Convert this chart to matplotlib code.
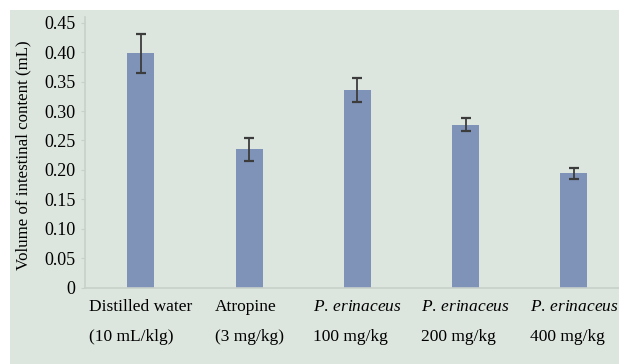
import matplotlib.pyplot as plt
from matplotlib.patches import Rectangle

# ── Data ──────────────────────────────────────────────────────────────
groups = [
    "Distilled water\n(10 mL/klg)",
    "Atropine\n(3 mg/kg)",
    "$\\it{P.\\,erinaceus}$\n100 mg/kg",
    "$\\it{P.\\,erinaceus}$\n200 mg/kg",
    "$\\it{P.\\,erinaceus}$\n400 mg/kg",
]
volume = [0.398, 0.235, 0.336, 0.277, 0.194]
errors = [0.033, 0.020, 0.020, 0.011, 0.010]
yticks = [0, 0.05, 0.10, 0.15, 0.20, 0.25, 0.30, 0.35, 0.40, 0.45]
ytick_labels = ["0", "0.05", "0.10", "0.15", "0.20", "0.25", "0.30", "0.35", "0.40", "0.45"]

BG = "#dce5de"
BAR = "#7f93b9"

plt.rcParams["font.family"] = ["Liberation Serif", "DejaVu Serif"]
plt.rcParams["mathtext.fontset"] = "custom"
plt.rcParams["mathtext.it"] = "Liberation Serif:italic"
plt.rcParams["mathtext.rm"] = "Liberation Serif"

W, H = 619, 364
fig = plt.figure(figsize=(W / 100, H / 100), dpi=100)
fig.patch.set_facecolor("white")
fig.patches.append(Rectangle((10 / W, 0), 1, 1 - 10 / H, transform=fig.transFigure,
                             facecolor=BG, edgecolor="none", zorder=-10))

ax = fig.add_axes([85 / W, 76.3 / H, 1 - 85 / W, (287.7 - 16.8) / H])
ax.set_facecolor(BG)

x = list(range(len(groups)))
ax.bar(x, volume, width=0.25, color=BAR, edgecolor="none", zorder=2)
ax.errorbar(x, volume, yerr=errors, fmt="none", ecolor="#3c3c3c",
            elinewidth=1.3, capsize=3.8, capthick=1.6, zorder=3)

ax.set_xlim(-0.517, 4.416)
ax.set_ylim(0, 0.46)
ax.set_yticks(yticks)
ax.set_yticklabels(ytick_labels, fontsize=13)
ax.set_xticks(x)
ax.set_xticklabels(groups, fontsize=12.5, multialignment="left", linespacing=2.15)
ax.tick_params(axis="x", length=0, pad=8)
ax.tick_params(axis="y", length=3, color="#c8d0ca", pad=4)

for s in ["top", "right"]:
    ax.spines[s].set_visible(False)
for s in ["left", "bottom"]:
    ax.spines[s].set_color("#c8d0ca")
    ax.spines[s].set_linewidth(1.2)

ax.set_ylabel("Volume of intestinal content (mL)", fontsize=12.2)
ax.yaxis.set_label_coords(-54 / (W - 85), 0.49)

fig.savefig("out.png", dpi=100, facecolor=fig.get_facecolor())
